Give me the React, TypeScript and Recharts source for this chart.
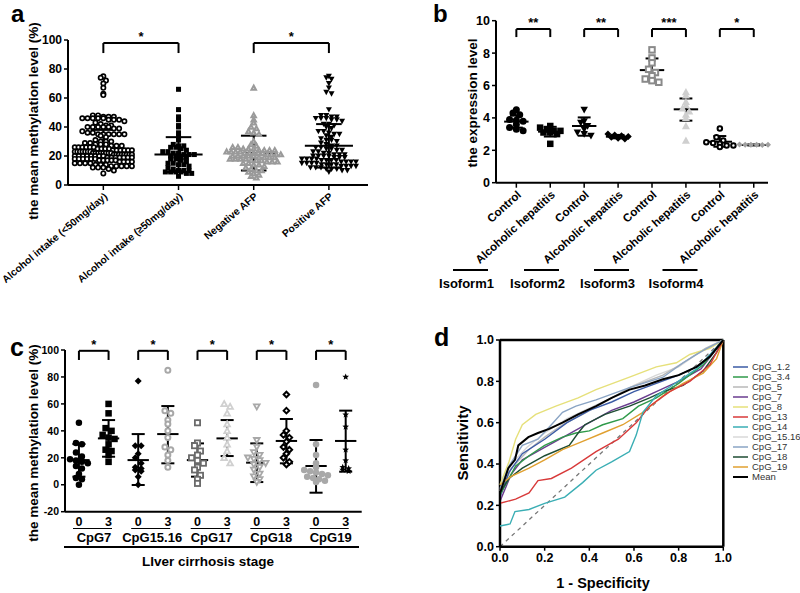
import React from "react";
import { ScatterChart, Scatter, XAxis, YAxis, ReferenceLine, Legend } from "recharts";

const FONT = '"Liberation Sans", Arial, Helvetica, sans-serif';

// ---- panel a : methylation by alcohol intake / AFP ----
const intakeLabels = [
  "Alcohol intake (<50mg/day)",
  "Alcohol intake (\u226550mg/day)",
  "Negative AFP",
  "Positive AFP",
];
const intakeLow = [
  75, 74, 72, 70, 67, 63, 62, 48, 48, 47, 47, 47, 46, 46, 46, 46, 46, 45, 45, 45, 44, 43, 42, 41, 41,
  40, 40, 40, 40, 40, 39, 39, 37, 36, 36, 35, 35, 35, 35, 35, 35, 34, 33, 31, 30, 30, 30, 29, 29, 28,
  28, 28, 27, 27, 27, 26, 26, 26, 26, 26, 26, 25, 25, 25, 25, 24, 24, 24, 24, 24, 24, 23, 23, 23, 23,
  23, 23, 23, 22, 22, 22, 22, 22, 22, 22, 22, 21, 21, 21, 21, 21, 21, 21, 21, 20, 20, 20, 20, 20, 20,
  20, 20, 19, 19, 19, 19, 19, 19, 19, 18, 18, 18, 18, 18, 18, 17, 17, 17, 17, 17, 16, 16, 16, 16, 15,
  15, 15, 15, 14, 14, 14, 13, 13, 13, 13, 13, 12, 12, 12, 11, 10, 8,
];
const intakeHigh = [
  66, 52, 47, 45, 41, 40, 36, 33, 31, 28, 27, 27, 26, 26, 25, 24, 23, 23, 22, 22, 21, 21, 21, 20, 20,
  19, 19, 18, 18, 17, 16, 15, 15, 14, 14, 13, 12, 11, 10, 10, 10, 9, 9, 9, 9, 8, 8, 6,
];
const afpNegative = [
  67, 48, 45, 43, 40, 39, 37, 36, 35, 30, 28, 27, 26, 26, 25, 25, 25, 24, 24, 24, 24, 23, 23, 23, 23,
  22, 22, 22, 22, 22, 21, 21, 21, 21, 20, 20, 20, 20, 20, 19, 19, 19, 19, 18, 18, 18, 18, 17, 17, 17,
  16, 16, 16, 15, 15, 14, 14, 13, 12, 11, 10, 10, 9, 8, 7, 6, 5,
];
const afpPositive = [
  75, 74, 73, 70, 67, 64, 63, 52, 48, 48, 47, 47, 46, 46, 46, 45, 45, 44, 42, 42, 41, 40, 39, 37, 37,
  36, 35, 35, 34, 33, 32, 31, 31, 30, 29, 28, 27, 27, 26, 26, 25, 25, 24, 24, 23, 23, 22, 22, 21, 21,
  21, 20, 20, 20, 20, 19, 19, 19, 18, 18, 18, 18, 17, 17, 17, 17, 16, 16, 16, 16, 15, 15, 15, 15, 14,
  14, 14, 14, 13, 13, 13, 13, 12, 12, 12, 11, 11, 11, 10, 10, 9,
];
const aMean = [25, 21, 22, 27];
const aSdHigh = [38, 33, 34, 42];
const aSdLow = [12, 9, 10, 12];

// ---- panel b : expression of isoforms ----
const hepLabels = [
  "Control", "Alcoholic hepatitis", "Control", "Alcoholic hepatitis",
  "Control", "Alcoholic hepatitis", "Control", "Alcoholic hepatitis",
];
const iso1Control = [4.5, 4.3, 4.2, 3.9, 3.85, 3.8, 3.6, 3.4, 3.3, 3.2];
const iso1Hep = [3.5, 3.4, 3.3, 3.2, 3.2, 3.1, 3.1, 3.0, 2.4];
const iso2Control = [4.5, 3.8, 3.7, 3.5, 3.3, 3.1, 3.0, 2.9];
const iso2Hep = [3.0, 2.95, 2.9, 2.85, 2.8, 2.75, 2.7];
const iso3Control = [8.2, 7.7, 7.4, 7.0, 6.8, 6.6, 6.4, 6.3, 6.2];
const iso3Hep = [5.6, 5.4, 5.0, 4.8, 4.6, 4.4, 4.2, 4.0, 3.5, 2.6];
const iso4Control = [3.35, 2.8, 2.6, 2.5, 2.45, 2.4, 2.3, 2.3, 2.2];
const iso4Hep = [2.36, 2.35, 2.35, 2.34, 2.33, 2.35];
const bMean = [3.77, 3.15, 3.5, 2.84, 6.95, 4.53, 2.53, 2.33];
const bSdHigh = [4.15, 3.45, 4.03, 2.95, 7.67, 5.2, 2.88, 2.36];
const bSdLow = [3.4, 2.85, 2.9, 2.74, 6.28, 3.83, 2.22, 2.3];
const isoforms = ["Isoform1", "Isoform2", "Isoform3", "Isoform4"];
const hepStars = ["**", "**", "***", "*"];

// ---- panel c : methylation by cirrhosis stage ----
const stageLabels = ["0", "3", "0", "3", "0", "3", "0", "3", "0", "3"];
const cpgSites = ["CpG7", "CpG15.16", "CpG17", "CpG18", "CpG19"];
const cpg7Stage0 = [46, 31, 30, 24, 21, 19, 18, 17, 16, 14, 12, 8, 5, 4, 0];
const cpg7Stage3 = [60, 53, 42, 40, 37, 35, 34, 30, 26, 25, 22, 17];
const cpg1516Stage0 = [77, 29, 29, 23, 20, 16, 13, 12, 11, 10, 6, 0];
const cpg1516Stage3 = [85, 55, 53, 48, 45, 40, 35, 28, 26, 22, 18, 13];
const cpg17Stage0 = [46, 31, 29, 25, 22, 20, 18, 16, 13, 11, 7, 4, 1];
const cpg17Stage3 = [60, 58, 53, 45, 40, 35, 30, 25, 20, 16];
const cpg18Stage0 = [58, 33, 28, 24, 22, 20, 19, 18, 16, 15, 13, 11, 8, 6, 4, 2];
const cpg18Stage3 = [67, 55, 40, 37, 35, 32, 28, 26, 23, 20, 17, 15];
const cpg19Stage0 = [74, 30, 22, 16, 13, 11, 10, 9, 8, 7, 6, 5, 4, 3, 2];
const cpg19Stage3 = [80, 52, 43, 26, 18, 13, 12, 11, 10];
const cMean = [18.3, 34.4, 18.3, 37.6, 18.3, 34.4, 16.4, 32.5, 13.9, 32.5];
const cSdHigh = [30.2, 48, 37.6, 58.4, 30.7, 48, 30.7, 48.8, 33.2, 55];
const cSdLow = [6, 20.8, -0.2, 15.9, 6, 21.3, 2, 15.9, -5.9, 9.7];

// ---- panel d : ROC curves [1 - specificity, sensitivity] ----
const rocCpG12 = [[0, 0.24], [0.04, 0.36], [0.1, 0.45], [0.2, 0.52], [0.3, 0.6], [0.4, 0.66], [0.5, 0.7], [0.6, 0.75], [0.7, 0.79], [0.8, 0.83], [0.9, 0.88], [0.95, 0.94], [1, 1]];
const rocCpG34 = [[0, 0.25], [0.07, 0.39], [0.13, 0.44], [0.2, 0.49], [0.28, 0.53], [0.34, 0.55], [0.4, 0.56], [0.46, 0.59], [0.55, 0.62], [0.62, 0.68], [0.7, 0.72], [0.8, 0.79], [0.91, 0.88], [1, 1]];
const rocCpG5 = [[0, 0.24], [0.05, 0.38], [0.13, 0.47], [0.2, 0.53], [0.28, 0.59], [0.37, 0.64], [0.47, 0.7], [0.58, 0.77], [0.73, 0.83], [0.82, 0.89], [0.92, 0.96], [1, 1]];
const rocCpG7 = [[0, 0.22], [0.05, 0.35], [0.1, 0.42], [0.2, 0.48], [0.3, 0.54], [0.4, 0.6], [0.5, 0.66], [0.6, 0.7], [0.7, 0.75], [0.8, 0.8], [0.9, 0.86], [1, 1]];
const rocCpG8 = [[0, 0.3], [0.04, 0.41], [0.07, 0.52], [0.1, 0.59], [0.16, 0.64], [0.25, 0.68], [0.35, 0.72], [0.43, 0.76], [0.58, 0.82], [0.7, 0.87], [0.79, 0.89], [0.85, 0.93], [0.94, 0.96], [1, 1]];
const rocCpG13 = [[0, 0.21], [0.07, 0.23], [0.13, 0.26], [0.17, 0.32], [0.23, 0.33], [0.32, 0.38], [0.43, 0.46], [0.53, 0.52], [0.61, 0.6], [0.67, 0.68], [0.76, 0.75], [0.85, 0.8], [0.94, 0.88], [1, 1]];
const rocCpG14 = [[0, 0.1], [0.045, 0.11], [0.067, 0.17], [0.13, 0.18], [0.2, 0.21], [0.29, 0.24], [0.37, 0.31], [0.43, 0.37], [0.5, 0.41], [0.58, 0.46], [0.61, 0.54], [0.64, 0.65], [0.7, 0.73], [0.77, 0.78], [0.88, 0.86], [0.95, 0.94], [1, 1]];
const rocCpG1516 = [[0, 0.27], [0.05, 0.4], [0.12, 0.48], [0.2, 0.55], [0.3, 0.62], [0.4, 0.67], [0.5, 0.72], [0.6, 0.78], [0.7, 0.83], [0.8, 0.87], [0.88, 0.93], [1, 1]];
const rocCpG17 = [[0, 0.28], [0.04, 0.39], [0.1, 0.49], [0.17, 0.52], [0.23, 0.59], [0.28, 0.65], [0.34, 0.68], [0.43, 0.71], [0.58, 0.77], [0.73, 0.82], [0.82, 0.89], [0.91, 0.95], [1, 1]];
const rocCpG18 = [[0, 0.26], [0.04, 0.33], [0.1, 0.38], [0.2, 0.44], [0.31, 0.49], [0.35, 0.55], [0.38, 0.59], [0.47, 0.64], [0.58, 0.68], [0.67, 0.72], [0.73, 0.75], [0.82, 0.78], [0.91, 0.85], [0.97, 0.94], [1, 1]];
const rocCpG19 = [[0, 0.3], [0.05, 0.34], [0.13, 0.38], [0.2, 0.42], [0.28, 0.47], [0.37, 0.51], [0.46, 0.55], [0.55, 0.59], [0.64, 0.65], [0.73, 0.73], [0.82, 0.79], [0.91, 0.84], [0.97, 0.91], [1, 1]];
const rocMean = [[0, 0.2], [0, 0.26], [0.022, 0.33], [0.037, 0.38], [0.067, 0.42], [0.082, 0.49], [0.127, 0.53], [0.17, 0.55], [0.22, 0.57], [0.28, 0.6], [0.35, 0.64], [0.43, 0.68], [0.5, 0.72], [0.58, 0.76], [0.65, 0.78], [0.73, 0.81], [0.8, 0.83], [0.88, 0.87], [0.94, 0.92], [1, 1]];

const rocSeries = [
  { name: "CpG_1.2", color: "#3b5ba5", pts: rocCpG12 },
  { name: "CpG_3.4", color: "#2f9a4a", pts: rocCpG34 },
  { name: "CpG_5", color: "#b8b8b8", pts: rocCpG5 },
  { name: "CpG_7", color: "#6a3d8f", pts: rocCpG7 },
  { name: "CpG_8", color: "#e6e07a", pts: rocCpG8 },
  { name: "CpG_13", color: "#d83a3a", pts: rocCpG13 },
  { name: "CpG_14", color: "#3aaeb4", pts: rocCpG14 },
  { name: "CpG_15.16", color: "#d8d8d8", pts: rocCpG1516 },
  { name: "CpG_17", color: "#8aa4c4", pts: rocCpG17 },
  { name: "CpG_18", color: "#1e4d33", pts: rocCpG18 },
  { name: "CpG_19", color: "#e0a030", pts: rocCpG19 },
  { name: "Mean", color: "#000000", pts: rocMean },
];

type Pt = { x: number; y: number };

// spread points that share a value row sideways, like a GraphPad dot plot
function swarm(values: number[], center: number, bin: number, step: number, half: number): Pt[] {
  const rows = new Map<number, number[]>();
  values.forEach((v) => {
    const k = Math.round(v / bin);
    if (!rows.has(k)) rows.set(k, []);
    rows.get(k)!.push(v);
  });
  const out: Pt[] = [];
  rows.forEach((row) => {
    const n = row.length;
    const s = n > 1 ? Math.min(step, (2 * half) / (n - 1)) : 0;
    row.forEach((v, i) => out.push({ x: center + (i - (n - 1) / 2) * s, y: v }));
  });
  return out;
}

function starPoints(cx: number, cy: number, r: number) {
  const pts: string[] = [];
  for (let i = 0; i < 10; i++) {
    const rr = i % 2 === 0 ? r : r * 0.45;
    const a = -Math.PI / 2 + (i * Math.PI) / 5;
    pts.push(`${cx + rr * Math.cos(a)},${cy + rr * Math.sin(a)}`);
  }
  return pts.join(" ");
}

function marker(kind: string, color: string, size: number, open = false, sw = 1.6) {
  return (p: any) => {
    const cx = p.cx;
    const cy = p.cy;
    const r = size / 2;
    const fill = open ? "#fff" : color;
    const stroke = open ? color : "none";
    const ri = open ? r - sw / 2 : r;
    if (kind === "circle") return <circle cx={cx} cy={cy} r={ri} fill={fill} stroke={stroke} strokeWidth={sw} />;
    if (kind === "square")
      return <rect x={cx - ri} y={cy - ri} width={ri * 2} height={ri * 2} fill={fill} stroke={stroke} strokeWidth={sw} />;
    if (kind === "tri")
      return <polygon points={`${cx},${cy - ri} ${cx + ri},${cy + ri * 0.8} ${cx - ri},${cy + ri * 0.8}`} fill={fill} stroke={stroke} strokeWidth={sw} />;
    if (kind === "triDown")
      return <polygon points={`${cx - ri},${cy - ri * 0.8} ${cx + ri},${cy - ri * 0.8} ${cx},${cy + ri}`} fill={fill} stroke={stroke} strokeWidth={sw} />;
    if (kind === "diamond")
      return <polygon points={`${cx},${cy - ri} ${cx + ri},${cy} ${cx},${cy + ri} ${cx - ri},${cy}`} fill={fill} stroke={stroke} strokeWidth={sw} />;
    return <polygon points={starPoints(cx, cy, r)} fill={color} />;
  };
}

function meanSd(id: string, i: number, mean: number, lo: number, hi: number, wm: number, wc: number) {
  const st = { stroke: "#000", strokeWidth: 2, ifOverflow: "visible" as const };
  return [
    <ReferenceLine key={`${id}m${i}`} segment={[{ x: i - wm, y: mean }, { x: i + wm, y: mean }]} {...st} />,
    <ReferenceLine key={`${id}v${i}`} segment={[{ x: i, y: lo }, { x: i, y: hi }]} {...st} />,
    <ReferenceLine key={`${id}h${i}`} segment={[{ x: i - wc, y: hi }, { x: i + wc, y: hi }]} {...st} />,
    <ReferenceLine key={`${id}l${i}`} segment={[{ x: i - wc, y: lo }, { x: i + wc, y: lo }]} {...st} />,
  ];
}

function bracket(id: string, a: number, b: number, top: number, leg: number, text: string) {
  const st = { stroke: "#000", strokeWidth: 2, ifOverflow: "visible" as const };
  return [
    <ReferenceLine
      key={`${id}t`}
      segment={[{ x: a, y: top }, { x: b, y: top }]}
      {...st}
      label={{ value: text, position: "top", offset: 2, fill: "#000", fontSize: 13, fontWeight: "bold", fontFamily: FONT }}
    />,
    <ReferenceLine key={`${id}a`} segment={[{ x: a, y: top }, { x: a, y: leg }]} {...st} />,
    <ReferenceLine key={`${id}b`} segment={[{ x: b, y: top }, { x: b, y: leg }]} {...st} />,
  ];
}

const axisLine = { stroke: "#000", strokeWidth: 2 };
const tickLine = { stroke: "#000", strokeWidth: 1.5 };
const tickFont = (size: number) => ({ fill: "#000", fontSize: size, fontWeight: "bold", fontFamily: FONT });

function PanelA() {
  const groups = [
    { vals: intakeLow, shape: marker("circle", "#000", 6, true, 1.7), half: 0.38 },
    { vals: intakeHigh, shape: marker("square", "#000", 5), half: 0.36 },
    { vals: afpNegative, shape: marker("tri", "#9a9a9a", 6.5, true, 2), half: 0.36 },
    { vals: afpPositive, shape: marker("triDown", "#000", 6), half: 0.36 },
  ];
  return (
    <ScatterChart width={400} height={300} margin={{ top: 40, right: 32, bottom: 85, left: 38 }}>
      <XAxis
        type="number"
        dataKey="x"
        domain={[-0.47, 3.52]}
        ticks={[0, 1, 2, 3]}
        interval={0}
        tickFormatter={(v: number) => intakeLabels[v] ?? ""}
        angle={-40}
        textAnchor="end"
        height={30}
        axisLine={axisLine}
        tickLine={tickLine}
        tickSize={5}
        tick={tickFont(10.3)}
      />
      <YAxis
        type="number"
        dataKey="y"
        domain={[0, 100]}
        ticks={[0, 20, 40, 60, 80, 100]}
        interval={0}
        width={30}
        axisLine={axisLine}
        tickLine={tickLine}
        tickSize={4}
        tick={tickFont(12)}
      />
      {groups.map((g, i) => (
        <Scatter key={i} data={swarm(g.vals, i, 2.8, 0.07, g.half)} shape={g.shape} isAnimationActive={false} />
      ))}
      {aMean.map((m, i) => meanSd("a", i, m, aSdLow[i], aSdHigh[i], 0.32, 0.17))}
      {bracket("a1", 0, 1, 97.9, 91, "*")}
      {bracket("a2", 2, 3, 97.9, 91, "*")}
    </ScatterChart>
  );
}

function PanelB() {
  const groups = [
    { vals: iso1Control, shape: marker("circle", "#000", 7) },
    { vals: iso1Hep, shape: marker("square", "#000", 6.5) },
    { vals: iso2Control, shape: marker("triDown", "#000", 7.5) },
    { vals: iso2Hep, shape: marker("diamond", "#000", 7) },
    { vals: iso3Control, shape: marker("square", "#8a8a8a", 7.5, true, 2) },
    { vals: iso3Hep, shape: marker("tri", "#cfcfcf", 8) },
    { vals: iso4Control, shape: marker("circle", "#000", 6.5, true, 2) },
    { vals: iso4Hep, shape: marker("diamond", "#a0a0a0", 6) },
  ];
  return (
    <ScatterChart width={400} height={300} margin={{ top: 20.7, right: 32, bottom: 87.3, left: 66 }}>
      <XAxis
        type="number"
        dataKey="x"
        domain={[-0.6, 7.28]}
        ticks={[0, 1, 2, 3, 4, 5, 6, 7]}
        interval={0}
        tickFormatter={(v: number) => hepLabels[v] ?? ""}
        angle={-42}
        textAnchor="end"
        height={30}
        axisLine={axisLine}
        tickLine={tickLine}
        tickSize={5}
        tick={tickFont(11.5)}
      />
      <YAxis
        type="number"
        dataKey="y"
        domain={[0, 10]}
        ticks={[0, 2, 4, 6, 8, 10]}
        interval={0}
        width={30}
        axisLine={axisLine}
        tickLine={tickLine}
        tickSize={4}
        tick={tickFont(12.5)}
      />
      {groups.map((g, i) => (
        <Scatter key={i} data={swarm(g.vals, i, 0.3, 0.2, 0.42)} shape={g.shape} isAnimationActive={false} />
      ))}
      {bMean.map((m, i) => meanSd("b", i, m, bSdLow[i], bSdHigh[i], 0.36, 0.19))}
      {hepStars.map((s, k) => bracket(`b${k}`, 2 * k, 2 * k + 1, 9.48, 8.99, s))}
    </ScatterChart>
  );
}

function PanelC() {
  const groups = [
    { vals: cpg7Stage0, shape: marker("circle", "#000", 6.5) },
    { vals: cpg7Stage3, shape: marker("square", "#000", 6.5) },
    { vals: cpg1516Stage0, shape: marker("diamond", "#000", 7) },
    { vals: cpg1516Stage3, shape: marker("circle", "#a8a8a8", 7, true, 2) },
    { vals: cpg17Stage0, shape: marker("square", "#6a6a6a", 7, true, 1.8) },
    { vals: cpg17Stage3, shape: marker("tri", "#d0d0d0", 7.5, true, 1.8) },
    { vals: cpg18Stage0, shape: marker("triDown", "#a8a8a8", 7.5, true, 1.8) },
    { vals: cpg18Stage3, shape: marker("diamond", "#000", 7.5, true, 2) },
    { vals: cpg19Stage0, shape: marker("circle", "#a8a8a8", 6.5) },
    { vals: cpg19Stage3, shape: marker("star", "#000", 7) },
  ];
  return (
    <ScatterChart width={400} height={303} margin={{ top: 60, right: 38.3, bottom: 51.3, left: 35 }}>
      <XAxis
        type="number"
        dataKey="x"
        domain={[-0.47, 9.54]}
        ticks={[0, 1, 2, 3, 4, 5, 6, 7, 8, 9]}
        interval={0}
        tickFormatter={(v: number) => stageLabels[v] ?? ""}
        height={30}
        axisLine={axisLine}
        tickLine={false}
        tickSize={3}
        tickMargin={2}
        tick={tickFont(12.5)}
      />
      <YAxis
        type="number"
        dataKey="y"
        domain={[-20, 100]}
        ticks={[-20, 0, 20, 40, 60, 80, 100]}
        interval={0}
        width={30}
        axisLine={axisLine}
        tickLine={tickLine}
        tickSize={4}
        tick={tickFont(10.5)}
      />
      {groups.map((g, i) => (
        <Scatter key={i} data={swarm(g.vals, i, 4.5, 0.2, 0.4)} shape={g.shape} isAnimationActive={false} />
      ))}
      {cMean.map((m, i) => meanSd("c", i, m, cSdLow[i], cSdHigh[i], 0.36, 0.22))}
      {cpgSites.map((s, k) => bracket(`c${k}`, 2 * k, 2 * k + 1, 99.4, 92.6, "*"))}
    </ScatterChart>
  );
}

function RocLegend() {
  return (
    <div style={{ fontFamily: FONT, fontSize: 9.5, color: "#333" }}>
      {rocSeries.map((s) => (
        <div key={s.name} style={{ display: "flex", alignItems: "center", height: 10, whiteSpace: "nowrap" }}>
          <svg width={15} height={10} style={{ display: "block" }}>
            <line x1={0} y1={5} x2={15} y2={5} stroke={s.color} strokeWidth={s.name === "Mean" ? 2 : 1.5} />
          </svg>
          <span style={{ marginLeft: 4, lineHeight: "10px" }}>{s.name}</span>
        </div>
      ))}
    </div>
  );
}

function PanelD() {
  const tickFmt = (v: number) => v.toFixed(1);
  const ticks = [0, 0.2, 0.4, 0.6, 0.8, 1];
  // draw lighter curves first, mean on top
  const order = [7, 2, 4, 8, 0, 3, 1, 9, 10, 5, 6, 11];
  return (
    <ScatterChart width={400} height={303} margin={{ top: 50, right: 76.7, bottom: 16.3, left: 70 }}>
      <XAxis
        type="number"
        dataKey="x"
        domain={[0, 1]}
        ticks={ticks}
        interval={0}
        tickFormatter={tickFmt}
        height={30}
        axisLine={{ stroke: "#000", strokeWidth: 2.5 }}
        tickLine={tickLine}
        tickSize={4}
        tick={tickFont(12.5)}
      />
      <YAxis
        type="number"
        dataKey="y"
        domain={[0, 1]}
        ticks={ticks}
        interval={0}
        tickFormatter={tickFmt}
        width={30}
        axisLine={{ stroke: "#000", strokeWidth: 2.5 }}
        tickLine={tickLine}
        tickSize={4}
        tick={tickFont(12.5)}
      />
      <ReferenceLine y={1} stroke="#000" strokeWidth={2.5} />
      <ReferenceLine x={1} stroke="#000" strokeWidth={2.5} />
      <ReferenceLine
        segment={[{ x: 0, y: 0 }, { x: 1, y: 1 }]}
        stroke="#777"
        strokeWidth={1.3}
        strokeDasharray="4 4"
      />
      {order.map((idx) => {
        const s = rocSeries[idx];
        return (
          <Scatter
            key={s.name}
            name={s.name}
            data={s.pts.map(([x, y]) => ({ x, y }))}
            fill={s.color}
            line={{ stroke: s.color, strokeWidth: s.name === "Mean" ? 2 : 1.4 }}
            lineType="joint"
            shape={() => <g />}
            isAnimationActive={false}
          />
        );
      })}
      <Legend
        layout="vertical"
        align="center"
        verticalAlign="middle"
        content={() => <RocLegend />}
        wrapperStyle={{ position: "absolute", left: 333, top: 72, width: 70, height: 120 }}
      />
    </ScatterChart>
  );
}

function Overlay() {
  const bold = { fontFamily: FONT, fontWeight: "bold" as const, fill: "#000" };
  const isoCenters = [466.5, 537.5, 607.5, 676];
  const cpgCenters = [94, 152.2, 211.7, 271.3, 330.7];
  return (
    <svg width={800} height={593} style={{ position: "absolute", left: 0, top: 0, pointerEvents: "none" }}>
      <text x={11} y={22} fontSize={24} {...bold}>a</text>
      <text x={433} y={22} fontSize={24} {...bold}>b</text>
      <text x={10} y={356} fontSize={25} {...bold}>c</text>
      <text x={434} y={346} fontSize={25} {...bold}>d</text>

      <text transform="translate(33,121) rotate(-90)" textAnchor="middle" dominantBaseline="central" fontSize={13.5} {...bold}>
        the mean methylation level (%)
      </text>
      <text transform="translate(472,103) rotate(-90)" textAnchor="middle" dominantBaseline="central" fontSize={13.5} {...bold}>
        the expression level
      </text>
      <text transform="translate(33,443) rotate(-90)" textAnchor="middle" dominantBaseline="central" fontSize={13.5} {...bold}>
        the mean methylation level (%)
      </text>
      <text transform="translate(462,443) rotate(-90)" textAnchor="middle" dominantBaseline="central" fontSize={15} {...bold}>
        Sensitivity
      </text>
      <text x={603} y={588} textAnchor="middle" fontSize={14.5} {...bold}>
        1 - Specificity
      </text>

      {isoforms.map((s, k) => (
        <g key={s}>
          <line x1={isoCenters[k] - 13.5} x2={isoCenters[k] + 21.5} y1={270} y2={270} stroke="#000" strokeWidth={2} />
          <text x={isoCenters[k]} y={288} textAnchor="middle" fontSize={13} {...bold}>{s}</text>
        </g>
      ))}

      {cpgSites.map((s, k) => (
        <g key={s}>
          <line x1={cpgCenters[k] - 21} x2={cpgCenters[k] + 18} y1={528.5} y2={528.5} stroke="#000" strokeWidth={1.2} />
          <text x={cpgCenters[k]} y={542} textAnchor="middle" fontSize={13} {...bold}>{s}</text>
        </g>
      ))}
      <line x1={64} x2={359} y1={547} y2={547} stroke="#000" strokeWidth={2} />
      <text x={208} y={566} textAnchor="middle" fontSize={13.5} {...bold}>LIver cirrhosis stage</text>
    </svg>
  );
}

export default function App() {
  return (
    <div style={{ position: "absolute", left: 0, top: 0, width: 800, height: 593, background: "#fff", fontFamily: FONT }}>
      <div style={{ position: "absolute", left: 0, top: 0 }}>
        <PanelA />
      </div>
      <div style={{ position: "absolute", left: 400, top: 0 }}>
        <PanelB />
      </div>
      <div style={{ position: "absolute", left: 0, top: 290 }}>
        <PanelC />
      </div>
      <div style={{ position: "absolute", left: 400, top: 290 }}>
        <PanelD />
      </div>
      <Overlay />
    </div>
  );
}
